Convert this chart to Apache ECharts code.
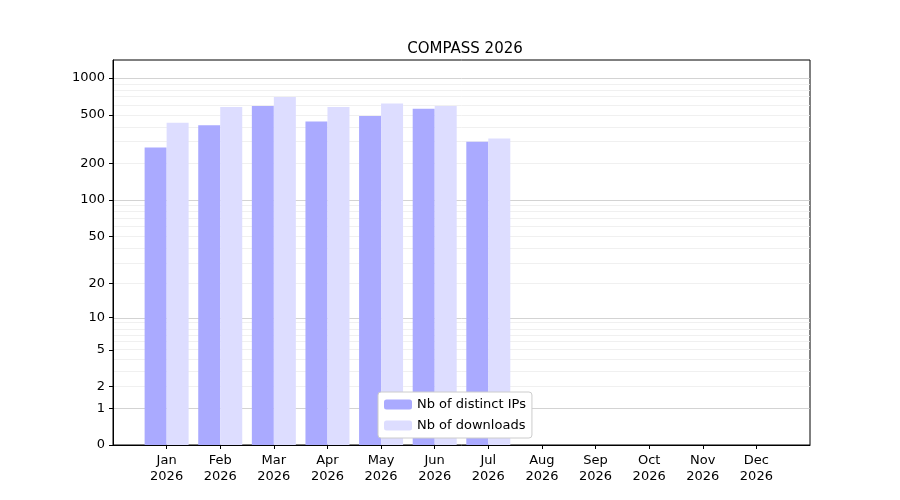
<!DOCTYPE html>
<html><head><meta charset="utf-8">
<script src="https://cdn.jsdelivr.net/npm/echarts@6/dist/echarts.min.js"></script>
<style>body{margin:0}#c{width:900px;height:500px}</style></head>
<body><div id="c"></div>
<script>
const months = ['Jan','Feb','Mar','Apr','May','Jun','Jul','Aug','Sep','Oct','Nov','Dec'];
const year = '2026';
const ips = [270, 410, 590, 440, 490, 560, 300, null, null, null, null, null];
const downloads = [430, 580, 700, 580, 620, 590, 320, null, null, null, null, null];
const yTicks = [0, 1, 2, 5, 10, 20, 50, 100, 200, 500, 1000];

const t = v => v == null ? null : Math.log10(1 + v);
const cats = [''].concat(months.map(m => m + '\n' + year)).concat(['']);
const pad = a => [null].concat(a.map(t)).concat([null]);
const major = [1, 10, 100, 1000];
const minor = [];
[1, 10, 100].forEach(d => { for (let k = 2; k <= 9; k++) minor.push(k * d); });
const lines = minor.map(v => ({yAxis: t(v), lineStyle: {color: '#ececec', width: 0.8, type: 'solid'}}))
  .concat(major.map(v => ({yAxis: t(v), lineStyle: {color: '#c8c8c8', width: 0.8, type: 'solid'}})));

const chart = echarts.init(document.getElementById('c'));
chart.setOption({
  animation: false,
  title: {text: 'COMPASS 2026', left: 460, top: 37, textAlign: 'center',
    textStyle: {fontFamily: 'DejaVu Sans', fontSize: 15, fontWeight: 'normal', color: '#000'}},
  grid: {left: 113, right: 90, top: 60, bottom: 55, show: true, borderColor: '#000', borderWidth: 1, backgroundColor: 'transparent'},
  legend: {left: 378, top: 392, orient: 'vertical', itemWidth: 28, itemHeight: 10, itemGap: 8,
    backgroundColor: '#fff', borderColor: '#ccc', borderWidth: 1, borderRadius: 3, padding: [6, 6, 6, 6],
    textStyle: {fontFamily: 'DejaVu Sans', fontSize: 13, color: '#000'},
    data: ['Nb of distinct IPs', 'Nb of downloads']},
  xAxis: {type: 'category', data: cats, boundaryGap: false,
    axisLine: {lineStyle: {color: '#000'}},
    axisTick: {alignWithLabel: true, interval: i => i > 0 && i < 13, length: 4, lineStyle: {color: '#000'}},
    axisLabel: {interval: 0, color: '#000', fontFamily: 'DejaVu Sans', fontSize: 13, lineHeight: 16},
    splitLine: {show: false}},
  yAxis: {type: 'value', min: 0, max: 3.148,
    axisLine: {show: true, lineStyle: {color: '#000'}},
    axisTick: {show: true, customValues: yTicks.map(t), length: 4, lineStyle: {color: '#000'}},
    axisLabel: {customValues: yTicks.map(t), color: '#000', fontFamily: 'DejaVu Sans', fontSize: 13,
      formatter: v => String(Math.round(Math.pow(10, v) - 1))},
    splitLine: {show: false}},
  series: [
    {name: 'Nb of distinct IPs', type: 'bar', data: pad(ips), barWidth: 22, barGap: '0%',
      itemStyle: {color: '#aaaaff'},
      markLine: {silent: true, symbol: 'none', label: {show: false}, data: lines, z: 0}},
    {name: 'Nb of downloads', type: 'bar', data: pad(downloads), barWidth: 22, barGap: '0%',
      itemStyle: {color: '#ddddff'}}
  ]
});
</script></body></html>
